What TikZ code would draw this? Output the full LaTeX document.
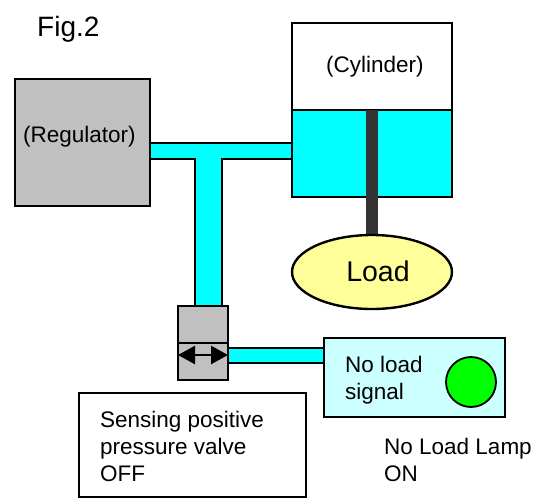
\documentclass[tikz,border=0pt]{standalone}
\usepackage{fontspec}
\setmainfont{Liberation Sans}
\usetikzlibrary{shapes.geometric,arrows.meta}
\definecolor{pipecyan}{RGB}{0,255,255}
\definecolor{valvegray}{RGB}{192,192,192}
\definecolor{loadyellow}{RGB}{255,255,153}
\definecolor{signalcyan}{RGB}{204,255,255}
\definecolor{rodgray}{RGB}{51,51,51}
\tikzset{
  part/.style={draw=black, line width=2.4pt, inner sep=0pt, outer sep=0pt, anchor=north west},
  pipe/.style={fill=pipecyan, draw=black, line width=2.4pt},
  label/.style={inner sep=0pt, anchor=west, font=\fontsize{22.5}{27}\selectfont, align=left},
}
\begin{document}
\begin{tikzpicture}[x=1pt, y=-1pt]
\useasboundingbox (0,0) rectangle (552,498);
\node[label, font=\fontsize{28}{33}\selectfont] (figlabel) at (37,29) {Fig.2};
% cylinder
\node[part, minimum width=160pt, minimum height=87pt] (cylinder) at (292,23) {};
\node[part, fill=pipecyan, minimum width=160pt, minimum height=87pt] (chamber) at (292,110) {};
\node[label] (cylinderlabel) at (326,67) {(Cylinder)};
\fill[rodgray] (366,110) rectangle (378,250);
% regulator
\node[part, fill=valvegray, minimum width=135pt, minimum height=127pt] (regulator) at (15,79) {};
\node[label] (regulatorlabel) at (23,137) {(Regulator)};
% pipes
\draw[pipe] (regulator.east |- 0,143) rectangle (chamber.west |- 0,159);
\draw[pipe] (195,159) rectangle (222,306);
\fill[pipecyan] (196.2,157) rectangle (220.8,160.5);
% load
\node[draw=black, line width=2.4pt, fill=loadyellow, ellipse, minimum width=160pt, minimum height=74pt, inner sep=0pt, outer sep=0pt] (load) at (372,272) {};
\node[label, font=\fontsize{28.5}{33}\selectfont, anchor=center] (loadlabel) at (378,271) {Load};
% valve
\node[part, fill=valvegray, minimum width=50pt, minimum height=37pt] (valvetop) at (178,306) {};
\node[part, fill=valvegray, minimum width=50pt, minimum height=37pt] (valvebottom) at (178,343) {};
\coordinate (arrowleft) at (178,355);
\coordinate (arrowright) at (228,355);
\draw[{Triangle[length=17pt,width=18pt]}-{Triangle[length=17pt,width=18pt]}, line width=2.4pt] (arrowleft) -- (arrowright);
% signal box
\node[part, fill=signalcyan, minimum width=181pt, minimum height=79pt] (signalbox) at (324,338) {};
\draw[pipe] (valvebottom.east |- 0,348) rectangle (signalbox.west |- 0,363);
\node[label] (signallabel) at (345,380.5) {No load\\signal};
\node[draw=black, line width=1.8pt, fill=green, circle, minimum size=50pt, inner sep=0pt] (lamp) at (471,382) {};
% texts
\node[part, minimum width=227pt, minimum height=104pt] (valvebox) at (79,393) {};
\node[label] (valvelabel) at (100,446.5) {Sensing positive\\pressure valve\\OFF};
\node[label] (lamplabel) at (384,460) {No Load Lamp\\ON};
\end{tikzpicture}
\end{document}
